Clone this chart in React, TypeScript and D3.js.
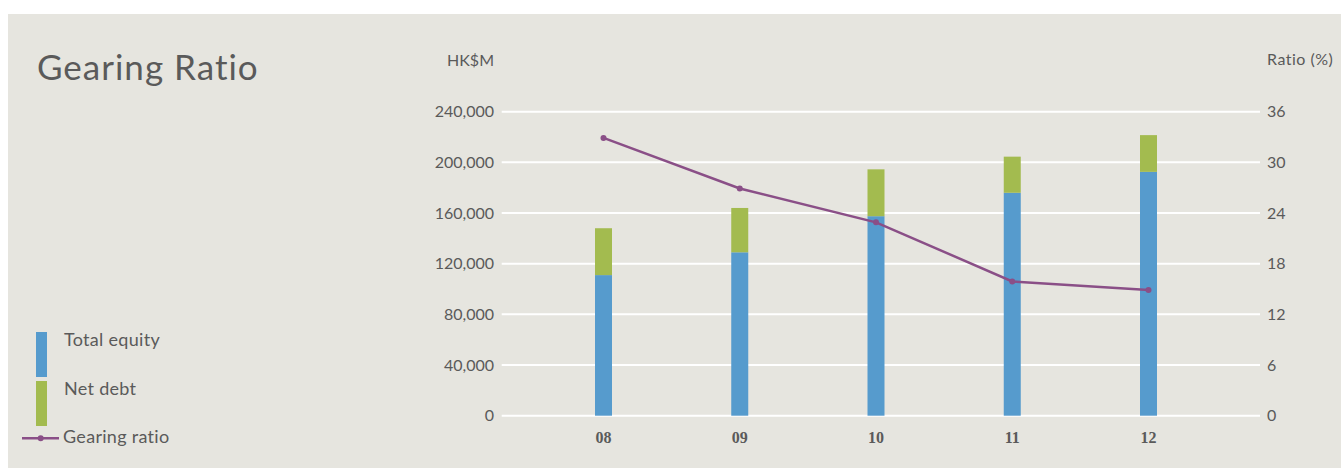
import React from "react";
import * as d3 from "d3";

const years = ["08", "09", "10", "11", "12"];
const totalEquity = [111000, 129000, 157500, 176000, 192500];
const netDebt = [37000, 35000, 37000, 28500, 29000];
const gearingRatio = [32.9, 26.9, 22.9, 15.9, 14.9];
const leftTicks = [0, 40000, 80000, 120000, 160000, 200000, 240000];
const rightTicks = [0, 6, 12, 18, 24, 30, 36];

const BG = "#e6e5df";
const BLUE = "#569bcd";
const GREEN = "#a3bb4f";
const PURPLE = "#8a4f87";
const TEXT = "#5a5a5a";
const FONT = "Lato, 'Open Sans', sans-serif";

export default function App() {
  const x = d3.scalePoint<string>().domain(years).range([603.5, 1148.5]);
  const yL = d3.scaleLinear().domain([0, 240000]).range([415.7, 111.7]);
  const yR = d3.scaleLinear().domain([0, 36]).range([415.7, 111.7]);
  const fmt = d3.format(",");
  const barW = 17;
  const line = d3
    .line<number>()
    .x((_, i) => x(years[i])!)
    .y((d) => yR(d));

  return (
    <svg
      width={1341}
      height={471}
      style={{ position: "absolute", left: 0, top: 0, display: "block" }}
    >
      <rect x={0} y={0} width={1341} height={471} fill="#ffffff" />
      <rect x={8} y={14} width={1333} height={454} fill={BG} />
      <text x={37} y={80} fontFamily={FONT} fontSize={35} letterSpacing={1} fill={TEXT}>
        Gearing Ratio
      </text>
      <text x={494} y={66} fontFamily={FONT} fontSize={16} fill={TEXT} textAnchor="end">
        HK$M
      </text>
      <text x={1267} y={65} fontFamily={FONT} fontSize={16} letterSpacing={0.5} fill={TEXT}>
        Ratio (%)
      </text>
      {leftTicks.map((t) => (
        <g key={t}>
          <line x1={501.7} x2={1260} y1={yL(t)} y2={yL(t)} stroke="#ffffff" strokeWidth={2} />
          <text x={494} y={yL(t)} dy="0.35em" fontFamily={FONT} fontSize={16} fill={TEXT} textAnchor="end">
            {fmt(t)}
          </text>
        </g>
      ))}
      {rightTicks.map((t) => (
        <text key={t} x={1267} y={yR(t)} dy="0.35em" fontFamily={FONT} fontSize={16} fill={TEXT}>
          {t}
        </text>
      ))}
      {years.map((yr, i) => (
        <g key={yr}>
          <rect
            x={x(yr)! - barW / 2}
            width={barW}
            y={yL(totalEquity[i])}
            height={yL(0) - yL(totalEquity[i])}
            fill={BLUE}
          />
          <rect
            x={x(yr)! - barW / 2}
            width={barW}
            y={yL(totalEquity[i] + netDebt[i])}
            height={yL(totalEquity[i]) - yL(totalEquity[i] + netDebt[i])}
            fill={GREEN}
          />
          <text
            x={x(yr)!}
            y={443}
            textAnchor="middle"
            fontFamily="'Liberation Serif', serif"
            fontWeight="bold"
            fontSize={16}
            fill={TEXT}
          >
            {yr}
          </text>
        </g>
      ))}
      <path d={line(gearingRatio) || ""} fill="none" stroke={PURPLE} strokeWidth={2.5} />
      {gearingRatio.map((v, i) => (
        <circle key={i} cx={x(years[i])!} cy={yR(v)} r={3} fill={PURPLE} />
      ))}
      {/* legend */}
      <rect x={36} y={332} width={11} height={45} fill={BLUE} />
      <text x={64} y={346} fontFamily={FONT} fontSize={18} letterSpacing={0.3} fill={TEXT}>
        Total equity
      </text>
      <rect x={36} y={381} width={11} height={45} fill={GREEN} />
      <text x={64} y={395} fontFamily={FONT} fontSize={18} letterSpacing={0.3} fill={TEXT}>
        Net debt
      </text>
      <line x1={22} x2={59} y1={438.3} y2={438.3} stroke={PURPLE} strokeWidth={2.5} />
      <circle cx={40.7} cy={438.3} r={3} fill={PURPLE} />
      <text x={63} y={443} fontFamily={FONT} fontSize={18} letterSpacing={0.3} fill={TEXT}>
        Gearing ratio
      </text>
    </svg>
  );
}
